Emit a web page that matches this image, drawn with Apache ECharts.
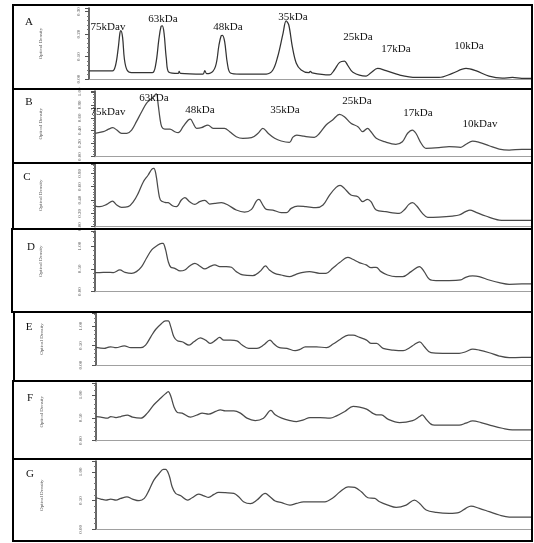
<!DOCTYPE html>
<html><head><meta charset="utf-8">
<script src="https://cdn.jsdelivr.net/npm/echarts@6/dist/echarts.min.js"></script>
<style>html,body{margin:0;padding:0;background:#fff}#c{width:534px;height:543px}</style>
</head><body><div id="c"></div>
<script>
// ---------- DATA ----------
const laneLetters = ['A','B','C','D','E','F','G'];
const yAxisTitle = 'Optical Density';
const ticksA = ['0.00','0.10','0.20','0.30'];
const ticksBC = ['0.00','0.20','0.40','0.60','0.80','1.00'];
const ticksDG = ['0.00','0.50','1.00'];
const bandsA = ['75kDav','63kDa','48kDa','35kDa','25kDa','17kDa','10kDa'];
const bandsB = ['75kDav','63kDa','48kDa','35kDa','25kDa','17kDa','10kDav'];

const posA = [0,5.3,6.0,6.6,7.0,7.2,7.6,8.0,8.6,9.6,14.3,15.1,15.8,16.3,16.6,17.0,17.5,18.1,20.2,20.4,20.7,25.8,26.2,26.6,27.3,28.6,29.4,29.9,30.2,30.7,31.3,32.0,34.1,40.1,41.6,42.7,43.9,44.6,45.2,46.0,46.9,48.0,49.7,50.1,50.5,54.4,55.5,56.7,57.8,58.5,59.7,62.7,63.8,65.3,67.2,70.2,74.0,79.2,82.2,85.3,87.5,90.5,93.5,95.8,97.9,100];
const odA  = [0.036,0.036,0.06,0.135,0.205,0.215,0.185,0.09,0.04,0.028,0.028,0.065,0.175,0.234,0.236,0.2,0.09,0.03,0.025,0.034,0.025,0.022,0.037,0.024,0.025,0.055,0.15,0.192,0.194,0.165,0.07,0.027,0.022,0.022,0.040,0.100,0.203,0.258,0.240,0.144,0.070,0.040,0.028,0.034,0.027,0.018,0.040,0.074,0.080,0.062,0.030,0.013,0.028,0.047,0.037,0.018,0.007,0.007,0.025,0.047,0.037,0.013,0.004,0.007,0.003,0.003];

const posB = [0,1.9,3.0,4.1,5.0,6.1,7.3,8.4,9.5,10.7,11.8,13.0,13.7,14.1,14.5,14.9,15.3,16.0,17.2,18.3,19.1,20.2,21.4,21.9,22.5,23.3,24.4,25.9,27.1,28.6,29.7,30.9,32.4,33.9,35.9,37.4,38.5,39.7,41.2,42.7,44.6,45.4,46.3,47.5,48.4,50.3,51.5,53.0,54.5,56.1,57.2,58.7,60.3,61.4,62.5,63.3,64.5,66.4,69.0,70.5,71.7,72.8,73.6,74.8,75.9,78.9,81.2,83.9,85.1,86.6,88.1,90.4,92.7,95.0,97.9,100];
const odB  = [0.36,0.384,0.42,0.446,0.41,0.36,0.36,0.41,0.54,0.694,0.825,0.90,0.95,0.97,0.80,0.592,0.462,0.426,0.426,0.384,0.369,0.462,0.566,0.581,0.515,0.437,0.446,0.488,0.437,0.437,0.437,0.384,0.307,0.282,0.291,0.36,0.437,0.36,0.282,0.24,0.22,0.30,0.333,0.32,0.307,0.298,0.36,0.488,0.566,0.654,0.617,0.515,0.462,0.384,0.437,0.384,0.282,0.229,0.189,0.229,0.36,0.41,0.36,0.205,0.127,0.136,0.152,0.143,0.189,0.24,0.22,0.167,0.116,0.10,0.112,0.11];

const posC = [0,1.1,2.7,4.0,5.0,6.1,7.6,8.8,9.9,11.1,12.2,13.0,13.5,14.0,14.5,15.0,16.0,16.8,17.9,18.7,19.8,20.6,21.7,22.9,24.0,25.2,26.3,27.5,29.0,30.5,32.4,34.3,35.9,37.0,37.6,38.5,39.3,40.8,42.7,43.9,45.0,46.5,48.4,50.7,52.3,53.8,55.3,56.2,57.2,58.7,60.3,61.4,62.5,63.3,64.5,66.7,69.8,70.9,72.0,72.8,73.8,75.1,76.3,78.9,82.0,83.5,85.0,86.0,87.4,89.6,92.7,95.7,97.9,100];
const odC  = [0.31,0.30,0.335,0.385,0.325,0.29,0.30,0.375,0.50,0.675,0.775,0.86,0.875,0.775,0.55,0.40,0.365,0.36,0.31,0.30,0.40,0.435,0.375,0.335,0.375,0.395,0.34,0.35,0.36,0.325,0.25,0.22,0.26,0.385,0.41,0.325,0.26,0.25,0.21,0.21,0.275,0.31,0.30,0.285,0.325,0.475,0.59,0.62,0.575,0.475,0.45,0.375,0.41,0.375,0.25,0.225,0.20,0.25,0.335,0.36,0.31,0.20,0.14,0.145,0.16,0.175,0.225,0.25,0.215,0.16,0.10,0.095,0.095,0.095];

const posD = [0,1.1,2.7,4.2,5.7,6.9,8.4,9.5,10.7,11.8,13.0,14.1,15.3,15.6,16.2,16.8,17.4,18.3,19.5,20.6,21.7,22.9,24.0,25.2,26.3,27.5,28.6,30.1,31.3,32.4,33.9,36.2,37.8,39.1,40.0,41.2,42.7,44.6,46.1,47.7,49.2,51.5,53.0,54.5,56.1,58.0,59.1,60.6,62.2,63.3,64.5,65.6,67.1,69.0,70.6,72.5,74.4,75.5,76.7,78.2,81.2,83.9,85.0,86.6,88.1,90.4,92.7,95.0,97.9,100];
const odD  = [0.415,0.415,0.422,0.415,0.473,0.422,0.40,0.437,0.547,0.73,0.914,1.002,1.06,1.06,0.914,0.657,0.532,0.51,0.451,0.473,0.561,0.62,0.561,0.495,0.547,0.584,0.547,0.547,0.532,0.437,0.363,0.349,0.437,0.561,0.473,0.40,0.363,0.327,0.378,0.422,0.437,0.40,0.40,0.51,0.635,0.752,0.708,0.635,0.584,0.525,0.532,0.437,0.363,0.327,0.327,0.437,0.547,0.437,0.268,0.239,0.239,0.253,0.312,0.341,0.327,0.253,0.195,0.158,0.165,0.165];

const posE = [0,1.9,2.7,3.4,4.6,6.5,8.0,10.3,11.4,12.6,13.7,14.9,16.0,16.6,17.2,17.9,18.7,19.8,21.4,22.5,24.0,25.2,26.3,27.5,28.4,29.4,30.9,32.4,33.6,35.1,37.0,38.5,40.0,40.8,42.0,43.9,45.8,46.9,48.1,50.7,53.0,54.5,56.1,58.0,59.1,60.6,62.2,63.3,64.5,66.0,68.3,70.6,72.1,73.2,74.4,75.5,77.0,79.7,83.5,85.0,86.6,88.1,90.4,92.7,95.0,97.9,100];
const odE  = [0.453,0.428,0.453,0.47,0.445,0.496,0.445,0.445,0.513,0.727,0.915,1.052,1.137,1.137,0.983,0.727,0.624,0.599,0.513,0.599,0.701,0.641,0.556,0.641,0.71,0.641,0.641,0.624,0.513,0.428,0.428,0.513,0.641,0.556,0.453,0.428,0.368,0.402,0.47,0.47,0.445,0.539,0.658,0.77,0.77,0.71,0.641,0.556,0.556,0.428,0.385,0.368,0.445,0.53,0.599,0.47,0.316,0.30,0.30,0.342,0.41,0.385,0.316,0.231,0.188,0.197,0.197];

const posF = [0,1.1,2.7,3.4,4.6,5.7,7.2,8.4,10.3,11.8,13.3,14.9,16.0,16.6,17.2,17.9,18.7,19.8,21.7,23.3,24.4,25.9,27.5,28.6,29.7,31.7,33.2,34.7,36.6,38.5,40.2,41.2,42.7,44.6,46.1,47.7,49.2,51.5,53.8,55.3,57.2,59.1,60.6,62.2,64.5,65.6,67.1,69.8,72.8,74.4,75.0,75.9,77.4,79.7,83.5,85.0,86.6,88.5,91.2,93.4,95.7,97.9,100];
const odF  = [0.528,0.514,0.492,0.528,0.506,0.528,0.558,0.514,0.492,0.602,0.785,0.932,1.028,1.072,0.969,0.749,0.617,0.602,0.514,0.565,0.602,0.58,0.639,0.675,0.653,0.653,0.602,0.492,0.44,0.492,0.661,0.565,0.492,0.44,0.418,0.455,0.506,0.506,0.492,0.543,0.639,0.749,0.734,0.69,0.565,0.565,0.47,0.396,0.44,0.528,0.565,0.47,0.345,0.338,0.338,0.382,0.433,0.396,0.323,0.272,0.235,0.235,0.235];

const posG = [0,1.1,2.3,3.4,4.6,5.7,7.1,8.4,9.9,11.1,12.2,13.3,14.5,15.5,16.0,16.8,17.5,18.3,19.5,21.0,22.1,23.6,24.8,25.9,27.1,28.2,29.7,31.7,32.8,33.9,35.5,37.0,38.9,40.0,41.2,42.7,44.6,46.1,47.7,50.0,52.6,54.5,56.1,58.0,59.5,61.0,62.5,64.1,65.2,67.1,69.0,71.3,73.2,74.4,75.9,78.2,81.2,83.5,85.0,86.2,88.1,90.4,92.7,95.0,97.9,100];
const odG  = [0.55,0.527,0.509,0.527,0.509,0.538,0.567,0.527,0.498,0.538,0.683,0.856,0.972,1.042,1.042,0.943,0.741,0.625,0.584,0.509,0.55,0.613,0.584,0.556,0.608,0.642,0.637,0.625,0.567,0.48,0.446,0.509,0.625,0.567,0.492,0.463,0.422,0.451,0.48,0.48,0.48,0.55,0.654,0.741,0.729,0.654,0.55,0.538,0.48,0.422,0.382,0.422,0.509,0.451,0.336,0.295,0.278,0.295,0.365,0.405,0.365,0.307,0.249,0.214,0.214,0.214];

// ---------- LAYOUT ----------
const traces = [[posA,odA],[posB,odB],[posC,odC],[posD,odD],[posE,odE],[posF,odF],[posG,odG]];
const tickSets = [ticksA,ticksBC,ticksBC,ticksDG,ticksDG,ticksDG,ticksDG];
const panels = [
  {box:[13,5,519,84],  grid:{left:89,top:8,right:3,bottom:464},   max:0.3156, interval:0.1, letter:[29,22.5], gap:46, margin:8},
  {box:[13,89,519,74], grid:{left:95,top:91,right:3,bottom:386.5}, max:1.015, interval:0.2, letter:[29,102], gap:52, margin:13},
  {box:[13,163,519,66],grid:{left:95,top:164,right:3,bottom:316.3},max:0.94,  interval:0.2, letter:[27,177], gap:52, margin:13},
  {box:[12,229,520,83],grid:{left:95,top:231,right:3,bottom:251.5},max:1.33,  interval:0.5, letter:[31,247], gap:52, margin:13},
  {box:[14,312,518,69],grid:{left:96,top:313,right:3,bottom:178},  max:1.34,  interval:0.5, letter:[29,327], gap:52, margin:13},
  {box:[13,381,519,78],grid:{left:96,top:383,right:3,bottom:102.3},max:1.26,  interval:0.5, letter:[30,398], gap:52, margin:13},
  {box:[13,459,519,82],grid:{left:96,top:461,right:3,bottom:13.7}, max:1.19,  interval:0.5, letter:[30,474.5], gap:52, margin:13}
];
const bandPosA = [[108,27],[163,19],[228,27],[293,17],[358,37],[396,49],[469,46]];
const bandPosB = [[108,112],[154,98],[200,110],[285,110],[357,101],[418,113],[480,124]];

const grid=[], xAxis=[], yAxis=[], series=[], graphic=[];
panels.forEach((p,i)=>{
  grid.push(p.grid);
  xAxis.push({type:'value',gridIndex:i,min:0,max:100,axisLine:{lineStyle:{color:'#a0a0a0',width:1}},axisTick:{show:false},axisLabel:{show:false},splitLine:{show:false}});
  const ticks = tickSets[i];
  yAxis.push({type:'value',gridIndex:i,min:0,max:p.max,interval:p.interval,
    name:yAxisTitle,nameLocation:'middle',nameGap:p.gap,nameTextStyle:{fontSize:5,color:'#555',fontFamily:'Liberation Serif'},
    axisLine:{show:true,lineStyle:{color:'#333',width:1.5}},
    axisTick:{show:true,length:4,lineStyle:{color:'#555'}},
    minorTick:{show:true,splitNumber:5,length:2,lineStyle:{color:'#777'}},
    splitLine:{show:false},
    axisLabel:{rotate:90,fontSize:5,color:'#555',margin:p.margin,fontFamily:'Liberation Serif',
      formatter:v=>{const s=v.toFixed(2);return ticks.includes(s)?s:'';}}});
  const [xs,ys]=traces[i];
  series.push({type:'line',xAxisIndex:i,yAxisIndex:i,symbol:'none',smooth:0.35,
    data:xs.map((x,k)=>[x,ys[k]]),lineStyle:{color:i===0?'#333':'#4a4a4a',width:1.25},z:3});
  graphic.push({type:'rect',shape:{x:p.box[0],y:p.box[1],width:p.box[2],height:p.box[3]},
    style:{fill:'none',stroke:'#000',lineWidth:2},z:10});
  graphic.push({type:'text',style:{text:laneLetters[i],x:p.letter[0],y:p.letter[1],
    font:'11px "Liberation Serif"',fill:'#111',align:'center',verticalAlign:'middle',textAlign:'center',textVerticalAlign:'middle'},z:11});
});
function addBands(names,pos){
  names.forEach((t,k)=>graphic.push({type:'text',style:{text:t,x:pos[k][0],y:pos[k][1],
    font:'11px "Liberation Serif"',fill:'#111',align:'center',verticalAlign:'middle',textAlign:'center',textVerticalAlign:'middle'},z:11}));
}
addBands(bandsA,bandPosA);
addBands(bandsB,bandPosB);

const chart = echarts.init(document.getElementById('c'),null,{renderer:'canvas'});
chart.setOption({animation:false,backgroundColor:'#fff',grid,xAxis,yAxis,series,graphic});
</script></body></html>
